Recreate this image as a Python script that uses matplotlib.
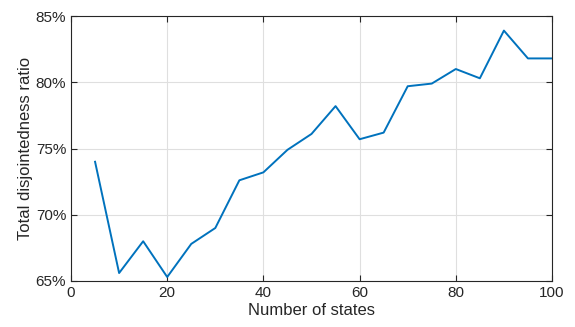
import numpy as np
import matplotlib.pyplot as plt
from matplotlib.ticker import FuncFormatter

plt.rcParams['font.family'] = ['Liberation Sans', 'DejaVu Sans']

# number of states vs. total disjointedness ratio (%)
states = [5, 10, 15, 20, 25, 30, 35, 40, 45, 50,
          55, 60, 65, 70, 75, 80, 85, 90, 95, 100]
ratio = [74.0, 65.6, 68.0, 65.3, 67.8, 69.0, 72.6, 73.2, 74.9, 76.1,
         78.2, 75.7, 76.2, 79.7, 79.9, 81.0, 80.3, 83.9, 81.8, 81.8]
xticks = [0, 20, 40, 60, 80, 100]
yticks = [65, 70, 75, 80, 85]

fig = plt.figure(figsize=(5.75, 3.27), dpi=100)
ax = fig.add_axes([0.1235, 0.1407, 0.8365, 0.8103])

ax.plot(states, ratio, color='#0072BD', lw=1.4)

ax.set_xlim(0, 100)
ax.set_ylim(65, 85)
ax.set_xticks(xticks)
ax.set_yticks(yticks)
ax.yaxis.set_major_formatter(FuncFormatter(lambda v, p: '%d%%' % v))

ax.grid(True, color='#dfdfdf', lw=0.8)
ax.set_axisbelow(True)
for s in ax.spines.values():
    s.set_color('#262626')
    s.set_linewidth(0.8)
ax.tick_params(direction='in', top=True, right=True, length=4,
               colors='#262626', labelsize=11, width=0.8)

ax.set_xlabel('Number of states', fontsize=12, color='#262626', labelpad=2)
ax.set_ylabel('Total disjointedness ratio', fontsize=12, color='#262626', labelpad=2)

fig.savefig('out.png', dpi=100)
